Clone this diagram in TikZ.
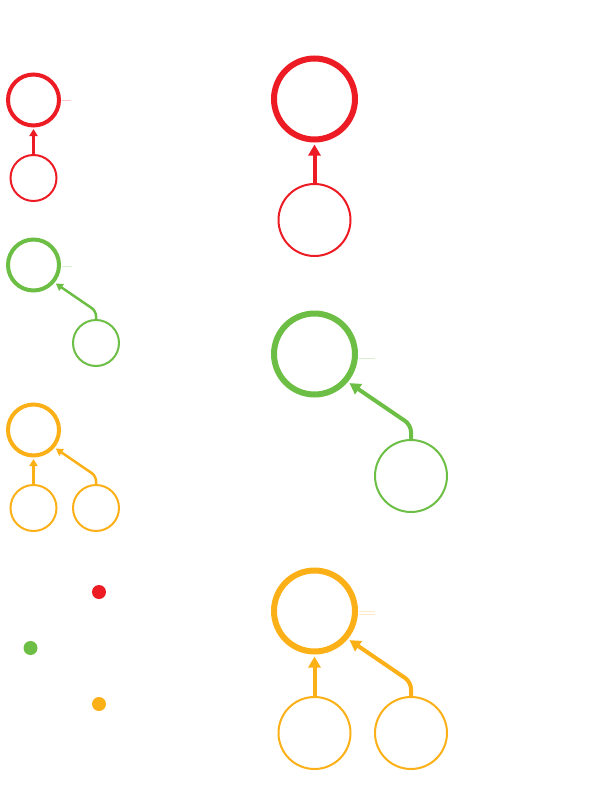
\documentclass[tikz,border=0pt]{standalone}
\usetikzlibrary{arrows.meta}
\definecolor{cred}{RGB}{237,28,36}
\definecolor{cgreen}{RGB}{108,190,69}
\definecolor{corange}{RGB}{252,176,23}
\begin{document}
\begin{tikzpicture}[x=1pt,y=-1pt,
  bigR/.style={circle,draw,inner sep=0pt,line width=6pt,minimum size=81pt},
  lowR/.style={circle,draw,inner sep=0pt,line width=2pt,minimum size=72pt},
  bigL/.style={circle,draw,inner sep=0pt,line width=4pt,minimum size=51pt},
  lowL/.style={circle,draw,inner sep=0pt,line width=2pt,minimum size=46pt},
  arrR/.style={line width=4pt,-{Triangle[length=11pt,width=12pt]},shorten >=2pt,rounded corners=7pt},
  arrL/.style={line width=2.5pt,-{Triangle[length=7pt,width=8pt]},shorten >=1.5pt,rounded corners=5pt},
  faint/.style={line width=0.6pt,opacity=0.25},
  dot/.style={circle,fill,inner sep=0pt,minimum size=14pt}]
\useasboundingbox (0,0) rectangle (608,803);
% ---- left column, red
\node[bigL,cred] (rbL) at (33.5,100) {};
\node[lowL,cred] (rlL) at (33.5,178) {};
\draw[arrL,cred] (rlL.north) -- (rbL.south);
\draw[faint,cred] (62,100) -- (71,100);
% ---- left column, green
\node[bigL,cgreen] (gbL) at (33.5,265) {};
\node[lowL,cgreen] (glL) at (96,343) {};
\draw[arrL,cgreen] (glL.north) -- ++(0,-8) -- (gbL.-40);
\draw[faint,cgreen] (62,266) -- (72,266);
% ---- left column, orange
\node[bigL,corange] (obL) at (33.5,430) {};
\node[lowL,corange] (olL1) at (33.5,508) {};
\node[lowL,corange] (olL2) at (96,508) {};
\draw[arrL,corange] (olL1.north) -- (obL.south);
\draw[arrL,corange] (olL2.north) -- ++(0,-8) -- (obL.-40);
% ---- dots
\node[dot,cred] (dr) at (99,592) {};
\node[dot,cgreen] (dg) at (30.5,648) {};
\node[dot,corange] (do) at (99,704) {};
% ---- right column, red
\node[bigR,cred] (rbR) at (314.5,99) {};
\node[lowR,cred] (rlR) at (314.5,220) {};
\draw[arrR,cred] (rlR.north) -- (rbR.south);
% ---- right column, green
\node[bigR,cgreen] (gbR) at (314.5,354) {};
\node[lowR,cgreen] (glR) at (411,476) {};
\draw[arrR,cgreen] (glR.north) -- ++(0,-14) -- (gbR.-40);
\draw[faint,cgreen] (359,358) -- (375,358);
% ---- right column, orange
\node[bigR,corange] (obR) at (314.5,611) {};
\node[lowR,corange] (olR1) at (314.5,733) {};
\node[lowR,corange] (olR2) at (411,733) {};
\draw[arrR,corange] (olR1.north) -- (obR.south);
\draw[arrR,corange] (olR2.north) -- ++(0,-14) -- (obR.-40);
\draw[faint,corange] (359,611) -- (375,611);
\draw[faint,corange] (359,614) -- (375,614);
\end{tikzpicture}
\end{document}
